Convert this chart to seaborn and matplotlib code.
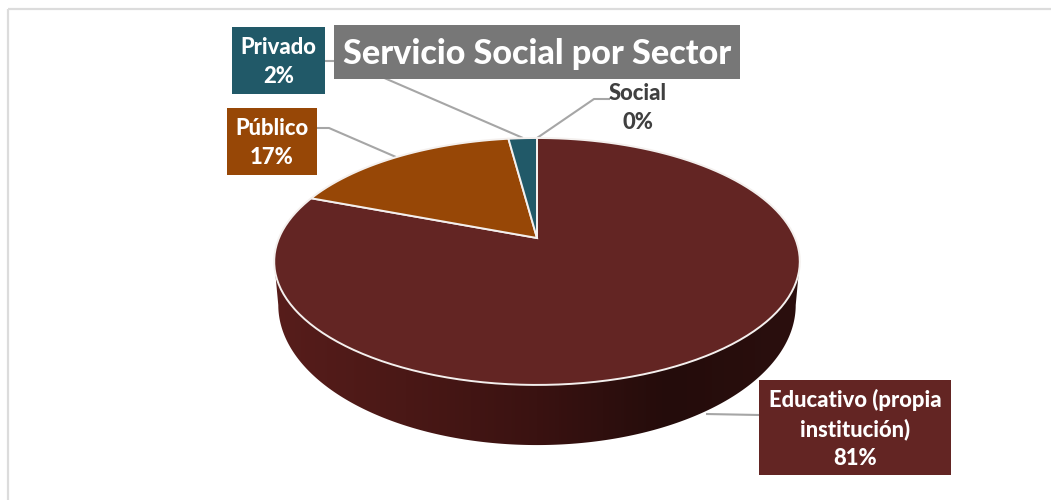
import numpy as np
import matplotlib
matplotlib.use("Agg")
import matplotlib.pyplot as plt
from matplotlib.patches import Polygon, Rectangle
from matplotlib.transforms import Affine2D
import seaborn as sns

categorias = ["Educativo (propia\ninstitución)", "Público", "Privado", "Social"]
valores = [80.8, 17.1, 2.1, 0.0]
colores = ["#632523", "#974706", "#215968", "#4f6228"]
titulo = "Servicio Social por Sector"

sns.set_theme(style="white")
plt.rcParams["font.family"] = ["Lato", "DejaVu Sans"]


# disco en perspectiva: circulo unidad -> pixeles de la imagen
def proyectar(xy, y0=238, a=119, b=258, c=0.19):
    u, v = xy[:, 0], xy[:, 1]
    w = 1 + c * v
    return np.column_stack([537 + b * u / w, y0 - a * v / w])


def aro(y0, a, b):
    t = np.linspace(0, 2 * np.pi, 721)
    return proyectar(np.column_stack([np.cos(t), np.sin(t)]), y0, a, b)


fig, ax = plt.subplots(figsize=(10.51, 5), dpi=100)
fig.subplots_adjust(0, 0, 1, 1)

wedges, _ = ax.pie(valores, colors=colores, startangle=90, counterclock=False)

# borde del grafico
ax.add_patch(Rectangle((8, 8.5), 1060, 500, fill=False, ec="#dcdcdc", lw=1.6, zorder=0))

# pared lateral con degradado
arriba = aro(238, 119, 258)
abajo = aro(278.4, 135, 254)
cmap = sns.blend_palette(["#571d1b", "#4a1816", "#3a1211", "#240c0b", "#2b0f0e"], as_cmap=True)
grad = ax.imshow(np.linspace(0, 1, 256).reshape(1, -1), cmap=cmap, extent=(274, 800, 450, 255),
                 aspect="auto", zorder=1)

ax.set_aspect("auto")
ax.set_xlim(0, 1051)
ax.set_ylim(500, 0)
ax.axis("off")

mitad_a = arriba[arriba[:, 1] >= 261]
mitad_b = abajo[abajo[:, 1] >= 305]
mitad_a = mitad_a[np.argsort(mitad_a[:, 0])]
mitad_b = mitad_b[np.argsort(mitad_b[:, 0])]
clip = Polygon(np.vstack([mitad_a, mitad_b[::-1]]), transform=ax.transData)
grad.set_clip_path(clip)

# cara superior: las cunas de ax.pie pasadas por la perspectiva
for w, color in zip(wedges, colores):
    poly = w.get_path().to_polygons(transform=Affine2D().scale(500))
    w.remove()
    if len(poly) == 0:
        continue
    ax.add_patch(Polygon(proyectar(poly[0] / 500), fc=color, ec="#f4f0ee", lw=1.4, zorder=3))


def guia(puntos):
    xs, ys = zip(*puntos)
    ax.plot(xs, ys, color="#a6a6a6", lw=1.5, zorder=2.5, solid_capstyle="butt")


guia([(325, 61), (345, 61), (523, 138)])
guia([(317, 128), (329, 128), (396, 157)])
guia([(610, 99), (594, 99), (537, 138)])
guia([(759, 415), (706, 414)])


def caja(x0, x1, y0, y1, color, texto, tam=15.8, tc="white"):
    if color:
        ax.add_patch(Rectangle((x0, y0), x1 - x0, y1 - y0, fc=color, ec="none", zorder=4))
    ax.text((x0 + x1) / 2, (y0 + y1) / 2 + 1.5, texto, ha="center", va="center", color=tc,
            fontsize=tam, fontweight="black", linespacing=1.45, zorder=5)


def etiqueta(i):
    return f"{categorias[i]}\n{valores[i]:.0f}%"


caja(759, 951, 380, 475, colores[0], etiqueta(0))
caja(227, 317, 108, 175, colores[1], etiqueta(1))
caja(232, 325, 27, 94, colores[2], etiqueta(2))
caja(595, 680, 78, 135, None, etiqueta(3), tc="#404040")
caja(334, 740, 25, 79, "#777777", titulo, tam=24.6)

fig.savefig("out.png", dpi=100)
